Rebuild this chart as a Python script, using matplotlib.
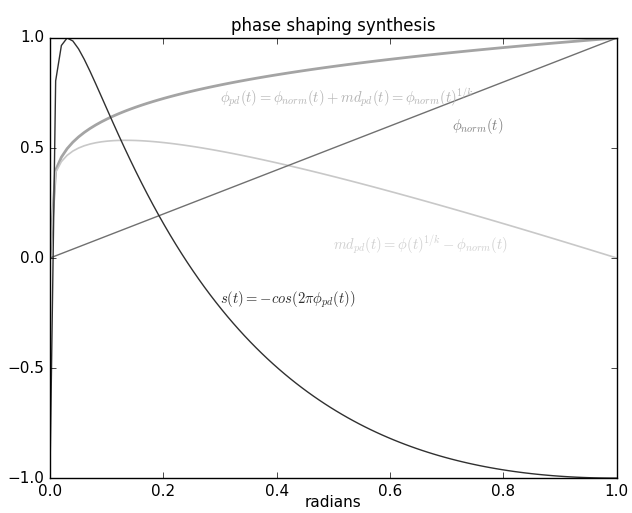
import numpy as np
import matplotlib
matplotlib.use("Agg")
import matplotlib.pyplot as plt

plt.style.use("classic")
plt.rcParams["mathtext.fontset"] = "cm"

# phase distortion exponent and time base
k = 5
t = np.linspace(0, 1, 100)

phi_norm = t
phi_pd = phi_norm ** (1.0 / k)
md_pd = phi_pd - phi_norm
s = -np.cos(2 * np.pi * phi_pd)

fig = plt.figure(figsize=(6.32, 5.13), facecolor="white")
ax = fig.add_axes([0.079, 0.068, 0.897, 0.858])

ax.plot(t, phi_pd, color="#a4a4a4", lw=2)
ax.plot(t, md_pd, color="#c8c8c8", lw=1.2)
ax.plot(t, phi_norm, color="#707070", lw=1)
ax.plot(t, s, color="#303030", lw=1)

fs = 10.5
ax.text(0.3, 0.73, r"$\phi_{pd}(t) = \phi_{norm}(t) + md_{pd}(t) = \phi_{norm}(t)^{1/k}$",
        color="#b4b4b4", fontsize=fs, va="center")
ax.text(0.71, 0.6, r"$\phi_{norm}(t)$", color="#808080", fontsize=fs, va="center")
ax.text(0.5, 0.06, r"$md_{pd}(t) = \phi(t)^{1/k} - \phi_{norm}(t)$",
        color="#d0d0d0", fontsize=fs, va="center")
ax.text(0.3, -0.19, r"$s(t) = -cos(2\pi\phi_{pd}(t))$", color="#303030",
        fontsize=fs, va="center")

ax.set_xlim(0, 1)
ax.set_ylim(-1, 1)
ax.set_xticks([0, 0.2, 0.4, 0.6, 0.8, 1.0])
ax.set_yticks([-1.0, -0.5, 0.0, 0.5, 1.0])
ax.tick_params(labelsize=11)
ax.set_xlabel("radians", fontsize=11, labelpad=-3)
ax.set_title("phase shaping synthesis", fontsize=12)

fig.savefig("out.png", dpi=100, facecolor="white")
